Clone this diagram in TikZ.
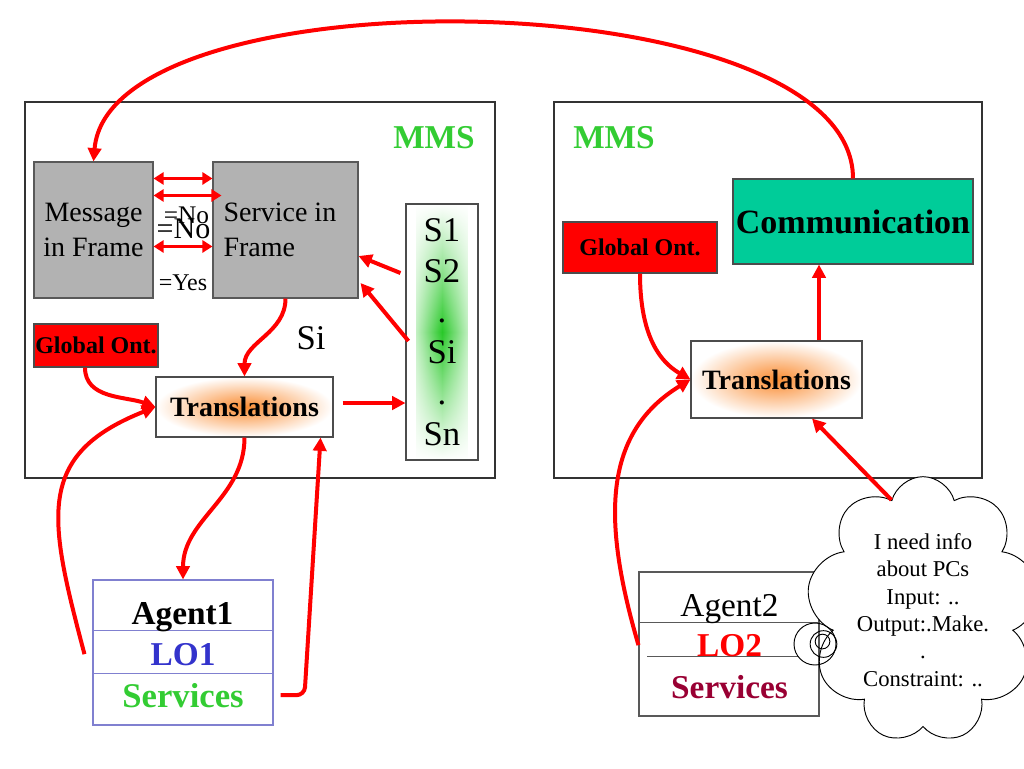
\documentclass[tikz,border=0pt]{standalone}
\usepackage{fontspec}
\setmainfont{Liberation Serif}
\usetikzlibrary{arrows.meta}
\usetikzlibrary{shapes.symbols}
\usetikzlibrary{fadings}
\usetikzlibrary{calc}
\definecolor{mmsgreen}{RGB}{51,204,51}
\definecolor{framegray}{RGB}{178,178,178}
\definecolor{commteal}{RGB}{0,204,153}
\definecolor{loblue}{RGB}{51,51,204}
\definecolor{srvred}{RGB}{153,0,51}
\definecolor{agblue}{RGB}{128,128,208}
\definecolor{transorange}{RGB}{250,140,50}
\definecolor{scolgreen}{RGB}{40,200,40}
\tikzfading[name=midband, top color=transparent!100, bottom color=transparent!100, middle color=transparent!0]

\begin{document}
\begin{tikzpicture}[x=0.75pt,y=-0.75pt,
    panel/.style={draw=black!80, line width=0.8pt},
    mmslabel/.style={text=mmsgreen, font=\fontsize{25}{30}\selectfont\bfseries},
    framebox/.style={draw=black!65, fill=framegray, line width=0.8pt, inner sep=0pt,
        minimum height=102pt, font=\fontsize{21}{26}\selectfont},
    ontbox/.style={draw=black!70, fill=red, line width=0.8pt, inner sep=0pt,
        font=\fontsize{18}{22}\selectfont\bfseries},
    transbox/.style={draw=black!70, line width=0.8pt, inner color=transorange, outer color=white,
        inner sep=0pt, font=\fontsize{21}{25}\selectfont\bfseries},
    scol/.style={draw=black!70, line width=0.8pt, minimum width=54pt, minimum height=192pt,
        inner sep=0pt, align=center, font=\fontsize{26}{30.6}\selectfont,
        path picture={\shade[left color=white, right color=white, middle color=scolgreen, path fading=midband]
            ([xshift=8pt]path picture bounding box.south west) rectangle ([xshift=-8pt]path picture bounding box.north east);}},
    lbl/.style={inner sep=0pt, anchor=base},
    agtext/.style={inner sep=0pt, anchor=base, font=\fontsize{25}{30}\selectfont\bfseries},
    thought/.style={cloud, cloud ignores aspect, draw=black, fill=white, line width=0.7pt,
        align=center, inner sep=0pt, font=\fontsize{17}{20.5}\selectfont},
    arr/.style={draw=red, line width=3pt, -{Triangle[length=10pt,width=10pt]}},
    darr/.style={draw=red, line width=2.6pt, {Triangle[length=7.5pt,width=9pt]}-{Triangle[length=7.5pt,width=9pt]}}]
    \useasboundingbox (0,0) rectangle (1024,768);

    % the two MMS panels
    \draw[panel] (25,102) rectangle (495,478);
    \draw[panel] (554,102) rectangle (982,478);
    \node[mmslabel] (mmsL) at (434,138) {MMS};
    \node[mmslabel] (mmsR) at (614,138) {MMS};

    % left panel
    \node[framebox, minimum width=89.25pt, align=center] (msg) at (93.5,230) {Message\\ in Frame};
    \node[framebox, minimum width=108.75pt, text width=93pt, align=flush left] (serv) at (285.5,230) {Service in\\Frame};
    \node[lbl, font=\fontsize{19}{22}\selectfont] (noA) at (186.5,223) {=No};
    \node[lbl, font=\fontsize{22.5}{26}\selectfont] (noB) at (183.5,238) {=No};
    \node[lbl, font=\fontsize{18}{22}\selectfont] (yes) at (183,290) {=Yes};
    \node[scol] (scol) at (442,332) {S1\\S2\\.\\Si\\.\\Sn};
    \node[font=\fontsize{26}{30}\selectfont, inner sep=0pt] (si) at (311,338) {Si};
    \node[ontbox, minimum width=93pt, minimum height=32.25pt] (glL) at (96,345.5) {Global Ont.};
    \node[transbox, minimum width=132.75pt, minimum height=45pt] (transL) at (244.5,407) {Translations};

    % right panel
    \node[ontbox, minimum width=115.5pt, minimum height=38.25pt] (glR) at (640,247.5) {Global Ont.};
    \node[draw=black!70, fill=commteal, line width=0.8pt, minimum width=180pt, minimum height=63.75pt,
        inner sep=0pt, font=\fontsize{25.5}{30}\selectfont\bfseries] (comm) at (853,221.5) {Communication};
    \node[transbox, minimum width=128.25pt, minimum height=57.75pt] (transR) at (776.5,379.5) {Translations};

    % agent 1
    \node[draw=agblue, line width=0.8pt, minimum width=135pt, minimum height=108.75pt, inner sep=0pt] (agentA) at (183,652.5) {};
    \draw[agblue, line width=0.8pt] ([yshift=-38.25pt]agentA.north west) -- ([yshift=-38.25pt]agentA.north east);
    \draw[agblue, line width=0.8pt] ([yshift=-70.5pt]agentA.north west) -- ([yshift=-70.5pt]agentA.north east);
    \node[agtext] (nameA) at (182.5,624) {Agent1};
    \node[agtext, text=loblue] (loA) at (183,665) {LO1};
    \node[agtext, text=mmsgreen, font=\fontsize{26}{30}\selectfont\bfseries] (servA) at (183,707) {Services};

    % agent 2
    \node[draw=black!65, line width=0.8pt, minimum width=135pt, minimum height=108pt, inner sep=0pt] (agentB) at (729,644) {};
    \draw[black!65, line width=0.8pt] ([yshift=-38.25pt]agentB.north west) -- ([yshift=-38.25pt]agentB.north east);
    \draw[black!65, line width=0.8pt] ([xshift=6.75pt,yshift=-63.75pt]agentB.north west) -- ([xshift=-16.5pt,yshift=-63.75pt]agentB.north east);
    \node[agtext, font=\fontsize{25}{30}\selectfont] (nameB) at (729.5,616) {Agent2};
    \node[agtext, text=red] (loB) at (729.5,656) {LO2};
    \node[agtext, text=srvred] (servB) at (729.5,698) {Services};

    % thought cloud
    \node[thought, cloud puffs=9, minimum width=174pt, minimum height=200pt] (cloudB) at (923,610)
        {I need info\\about PCs\\Input: ..\\Output:.Make.\\.\\Constraint: ..};
    \draw[line width=0.7pt] (815,644) circle[radius=15.75pt];
    \draw[line width=0.7pt] (823.5,644) circle[radius=10pt];
    \draw[line width=0.7pt] (822.5,641.5) circle[radius=5.5pt];

    % arrows
    \draw[darr] ([yshift=-12.75pt]msg.north east) -- ([yshift=-12.75pt]serv.north west);
    \draw[darr] ([yshift=-25.5pt]msg.north east) -- ([xshift=6.75pt,yshift=-25.5pt]serv.north west);
    \draw[darr] ([yshift=-63.75pt]msg.north east) -- ([yshift=-63.75pt]serv.north west);
    \draw[arr] ($(scol.west)+(-5,-59)$) -- ($(serv.east)+(0,26)$);
    \draw[arr] ($(scol.west)+(3,9)$) -- ($(serv.east)+(2,53)$);
    \draw[arr] (serv.south) to[out=-90,in=90] (transL.north);
    \draw[arr] ($(transL.east)+(9,-4)$) -- ($(scol.west)+(0,71)$);
    \draw[arr] ([xshift=-8.25pt]glL.south) to[out=-90,in=160] (transL.west);
    \draw[arr] ($(agentA.west |- loA.center)+(-8,0)$) .. controls +(-36,-136) and +(-121,48) .. (transL.west);
    \draw[arr] (transL.south) to[out=-90,in=90] (agentA.north);
    \draw[arr, rounded corners=6pt] ($(agentA.east |- servA.center)+(7,0)$) -- ++(24,0) -- ([xshift=-9.75pt]transL.south east);
    \draw[arr] ($(transR.north)+(42.5,0)$) -- ($(comm.south)+(-34,0)$);
    \draw[arr] (glR.south) to[out=-90,in=150] (transR.west);
    \draw[arr] (agentB.west |- loB.center) .. controls +(-35,-120) and +(-90,55) .. (transR.west);
    \draw[arr] (cloudB.106) -- ($(transR.south)+(35.5,0)$);
    \draw[arr] (comm.north) .. controls +(0,-199) and +(16,-192) .. (msg.north);
\end{tikzpicture}
\end{document}
